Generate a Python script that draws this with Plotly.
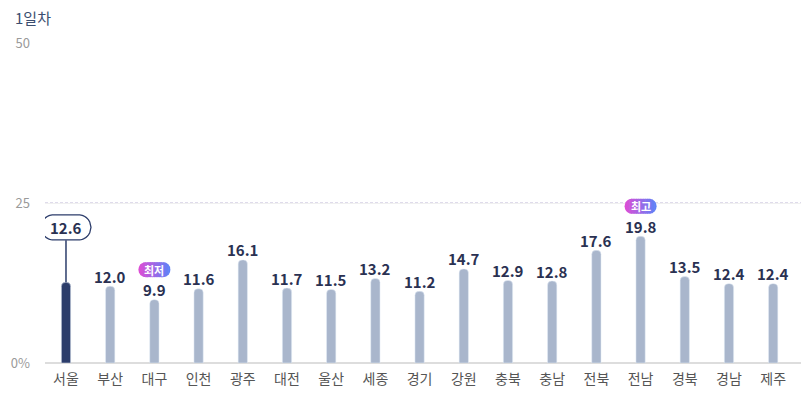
import plotly.graph_objects as go

regions = ['서울', '부산', '대구', '인천', '광주', '대전', '울산', '세종', '경기',
           '강원', '충북', '충남', '전북', '전남', '경북', '경남', '제주']
rates = [12.6, 12.0, 9.9, 11.6, 16.1, 11.7, 11.5, 13.2, 11.2,
         14.7, 12.9, 12.8, 17.6, 19.8, 13.5, 12.4, 12.4]
tick_vals = [0, 25, 50]
tick_text = ['0%', '25', '50']
title_text = '1일차'
focus = '서울'

FONT = 'Noto Sans CJK KR'
NAVY = '#2c3d6b'
GREY_BAR = '#a9b6cc'
LABEL = '#2a3152'


def mix(c1, c2, t):
    a = [int(c1[i:i + 2], 16) for i in (1, 3, 5)]
    b = [int(c2[i:i + 2], 16) for i in (1, 3, 5)]
    return '#%02x%02x%02x' % tuple(round(a[k] + (b[k] - a[k]) * t) for k in range(3))


def pill_edge(x, w, h):
    # half height of a pill at horizontal offset x
    r = h / 2
    dx = abs(x) - (w / 2 - r)
    if dx <= 0:
        return r
    return max(r * r - dx * dx, 0) ** 0.5


def pill_slice(x0, x1, w, h, cy, steps=6):
    xs = [x0 + (x1 - x0) * i / steps for i in range(steps + 1)]
    top = [(x, cy + pill_edge(x, w, h)) for x in xs]
    bot = [(x, cy - pill_edge(x, w, h)) for x in reversed(xs)]
    pts = top + bot
    return 'M ' + ' L '.join('%.2f,%.2f' % p for p in pts) + ' Z'


def pill_shapes(cat, val, w, h, cy, colors=None, line=None, fill=None, n=14):
    out = []
    base = dict(type='path', xref='x', yref='y', xsizemode='pixel', ysizemode='pixel',
                xanchor=cat, yanchor=val, layer='above')
    if colors:
        for i in range(n):
            x0 = -w / 2 + w * i / n
            x1 = -w / 2 + w * (i + 1) / n + (0.6 if i < n - 1 else 0)
            out.append(dict(base, path=pill_slice(x0, min(x1, w / 2), w, h, cy),
                            fillcolor=mix(colors[0], colors[1], (i + 0.5) / n),
                            line=dict(width=0)))
    else:
        out.append(dict(base, path=pill_slice(-w / 2, w / 2, w, h, cy, steps=40),
                        fillcolor=fill, line=dict(color=line, width=1.3)))
    return out


bar_colors = [NAVY if r == focus else GREY_BAR for r in regions]

fig = go.Figure(go.Bar(
    x=regions, y=rates, marker_color=bar_colors, width=0.21,
    hoverinfo='skip',
))

annotations = [dict(text=title_text, xref='paper', yref='paper', x=-0.042, y=1.081,
                    xanchor='left', yanchor='middle', showarrow=False,
                    font=dict(family=FONT, size=15, color='#3b4e70'))]
shapes = []

lo = min(rates)
hi = max(rates)
for r, v in zip(regions, rates):
    if r == focus:
        shapes.append(dict(type='line', xref='x', yref='y', xsizemode='pixel',
                           ysizemode='pixel', xanchor=r, yanchor=v, x0=0, x1=0,
                           y0=0, y1=42, line=dict(color=NAVY, width=1.5)))
        shapes += pill_shapes(r, v, 50, 25, 55, line=NAVY, fill='white')
        annotations.append(dict(text='<b>%.1f</b>' % v, x=r, y=v, yshift=55,
                                showarrow=False, yanchor='middle',
                                font=dict(family=FONT, size=15, color=LABEL)))
        continue
    annotations.append(dict(text='<b>%.1f</b>' % v, x=r, y=v, yshift=10,
                            showarrow=False, yanchor='middle',
                            font=dict(family=FONT, size=15, color=LABEL)))
    if v in (lo, hi):
        badge = '최저' if v == lo else '최고'
        shapes += pill_shapes(r, v, 32, 15, 30, colors=('#e04cd4', '#5a84f8'))
        annotations.append(dict(text='<b>%s</b>' % badge, x=r, y=v, yshift=30,
                                showarrow=False, yanchor='middle',
                                font=dict(family=FONT, size=11, color='white')))

# 25 dashed guide
shapes.append(dict(type='line', xref='paper', yref='y', x0=0, x1=1, y0=25, y1=25,
                   line=dict(color='#beb6d6', width=1, dash='3px,2px'), layer='below'))

fig.update_layout(
    width=801, height=401,
    margin=dict(l=37, r=4, t=35, b=46),
    paper_bgcolor='#ffffff', plot_bgcolor='#ffffff',
    showlegend=False,
    barcornerradius=4,
    annotations=annotations,
    shapes=shapes,
    xaxis=dict(range=[-0.475, 16.72], showgrid=False, showline=False, ticks='',
               tickfont=dict(family=FONT, size=14, color='#555555'),
               ticklabelstandoff=6, fixedrange=True),
    yaxis=dict(range=[0, 50], tickvals=tick_vals, ticktext=tick_text,
               showgrid=True, gridcolor='#f0f0f0', gridwidth=1,
               zeroline=True, zerolinecolor='#dddddd', zerolinewidth=1.5,
               tickfont=dict(family=FONT, size=13, color='#9a9a9a'),
               ticklabelstandoff=14, fixedrange=True),
)

fig.write_html('out.html')
